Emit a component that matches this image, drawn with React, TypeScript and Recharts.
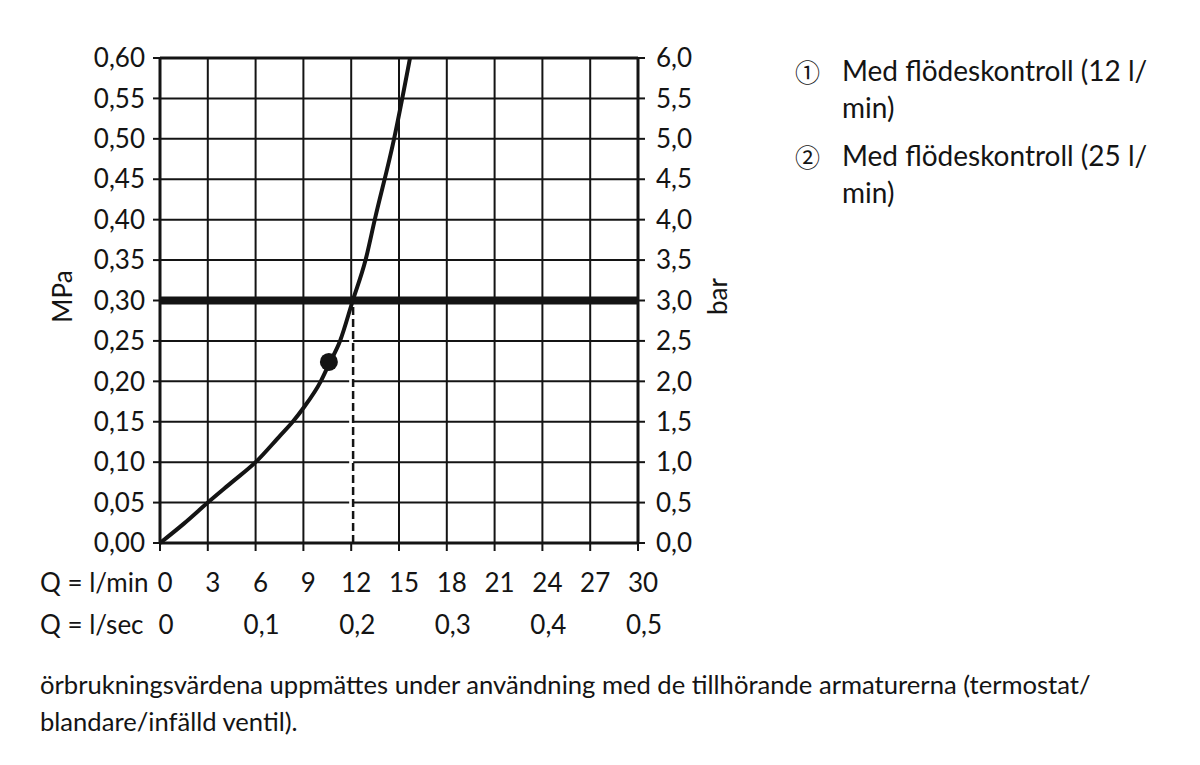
import { CartesianGrid, Label, Line, LineChart, ReferenceDot, ReferenceLine, XAxis, YAxis } from "recharts";

// flow curve (l/min -> MPa)
const flowLmin = [0, 1.5, 3, 4.5, 6, 7.5, 8.33, 9, 10.09, 10.6, 11.3, 12.1, 12.9, 13.48, 14.69, 15.69];
const pressureMpa = [0, 0.024, 0.05, 0.075, 0.1, 0.132, 0.15, 0.167, 0.2, 0.221, 0.25, 0.3, 0.35, 0.4, 0.5, 0.6];

const minTicks = [0, 3, 6, 9, 12, 15, 18, 21, 24, 27, 30];
const minLabels = ["0", "3", "6", "9", "12", "15", "18", "21", "24", "27", "30"];
const secTicks = [0, 6, 12, 18, 24, 30];
const secLabels = ["0", "0,1", "0,2", "0,3", "0,4", "0,5"];
const mpaTicks = [0, 0.05, 0.1, 0.15, 0.2, 0.25, 0.3, 0.35, 0.4, 0.45, 0.5, 0.55, 0.6];
const mpaLabels = ["0,00", "0,05", "0,10", "0,15", "0,20", "0,25", "0,30", "0,35", "0,40", "0,45", "0,50", "0,55", "0,60"];
const barTicks = [0, 0.5, 1, 1.5, 2, 2.5, 3, 3.5, 4, 4.5, 5, 5.5, 6];
const barLabels = ["0,0", "0,5", "1,0", "1,5", "2,0", "2,5", "3,0", "3,5", "4,0", "4,5", "5,0", "5,5", "6,0"];

const limitMpa = 0.3;
const limitFlow = 12;
const markFlow = 10.6;
const markMpa = 0.224;

const legendMarks = ["①", "②"];
const legendLines = [
  ["Med flödeskontroll (12 l/", "min)"],
  ["Med flödeskontroll (25 l/", "min)"],
];
const noteLines = [
  "örbrukningsvärdena uppmättes under användning med de tillhörande armaturerna (termostat/",
  "blandare/infälld ventil).",
];

const INK = "#141414";
const FONT = "Lato, 'Open Sans', sans-serif";

const data = flowLmin.map((q, i) => ({ q, p: pressureMpa[i] }));

const MinTick = ({ x, y, index }: any) => (
  <text x={x + 5} y={y + 41} textAnchor="middle" fontSize={26} fill={INK}>
    {minLabels[index]}
  </text>
);

const SecTick = ({ x, y, index }: any) => (
  <text x={x + 6} y={y + 41} textAnchor="middle" fontSize={26} fill={INK}>
    {secLabels[index]}
  </text>
);

// "Q = ..." row captions, left aligned at x = 40
const rowCaption = (text: string, dy: number) => (props: any) => {
  const vb = props.viewBox;
  return (
    <text x={vb.x - 120} y={vb.y + dy} textAnchor="start" fontSize={26} fill={INK}>
      {text}
    </text>
  );
};

const sideLabel = (text: string, dx: number) => (props: any) => {
  const vb = props.viewBox;
  const cx = vb.x + dx;
  const cy = vb.y + vb.height / 2 - 4;
  return (
    <text
      x={cx}
      y={cy}
      transform={`rotate(-90 ${cx} ${cy})`}
      textAnchor="middle"
      dominantBaseline="central"
      fontSize={26}
      fill={INK}
    >
      {text}
    </text>
  );
};

export default function App() {
  return (
    <div
      style={{
        position: "absolute",
        left: 0,
        top: 0,
        width: 1200,
        height: 765,
        background: "#fff",
        fontFamily: FONT,
        color: INK,
      }}
    >
      <div style={{ position: "absolute", left: 0, top: 0 }}>
        <LineChart width={760} height={660} data={data} margin={{ top: 58, right: 20, left: 20, bottom: 25 }}>
          <CartesianGrid xAxisId="min" yAxisId="mpa" stroke={INK} strokeWidth={2} strokeOpacity={1} />
          <XAxis
            xAxisId="min"
            dataKey="q"
            type="number"
            domain={[0, 30]}
            ticks={minTicks}
            interval={0}
            height={50}
            tickSize={8}
            tickMargin={0}
            tick={<MinTick />}
            axisLine={{ stroke: INK, strokeWidth: 3 }}
            tickLine={{ stroke: INK, strokeWidth: 2 }}
          >
            <Label content={rowCaption("Q = l/min", 49)} />
          </XAxis>
          <XAxis
            xAxisId="sec"
            dataKey="q"
            type="number"
            domain={[0, 30]}
            ticks={secTicks}
            interval={0}
            height={42}
            tickSize={0}
            tickMargin={0}
            tick={<SecTick />}
            axisLine={false}
            tickLine={false}
          >
            <Label content={rowCaption("Q = l/sec", 41)} />
          </XAxis>
          <YAxis
            yAxisId="mpa"
            dataKey="p"
            type="number"
            domain={[0, 0.6]}
            ticks={mpaTicks}
            interval={0}
            width={140}
            tickSize={7}
            tickMargin={8}
            tickFormatter={(_v: number, i: number) => mpaLabels[i]}
            tick={{ fill: INK, fontSize: 26 }}
            axisLine={{ stroke: INK, strokeWidth: 3 }}
            tickLine={{ stroke: INK, strokeWidth: 2 }}
          >
            <Label content={sideLabel("MPa", 42)} />
          </YAxis>
          <YAxis
            yAxisId="bar"
            dataKey="p"
            orientation="right"
            type="number"
            domain={[0, 6]}
            allowDataOverflow
            ticks={barTicks}
            interval={0}
            width={102}
            tickSize={7}
            tickMargin={11}
            tickFormatter={(_v: number, i: number) => barLabels[i]}
            tick={{ fill: INK, fontSize: 26 }}
            axisLine={{ stroke: INK, strokeWidth: 3 }}
            tickLine={{ stroke: INK, strokeWidth: 2 }}
          >
            <Label content={sideLabel("bar", 79)} />
          </YAxis>
          <ReferenceLine xAxisId="min" yAxisId="bar" y={6} stroke={INK} strokeWidth={3} />
          <ReferenceLine
            xAxisId="min"
            yAxisId="mpa"
            segment={[
              { x: limitFlow, y: 0 },
              { x: limitFlow, y: limitMpa },
            ]}
            stroke="#fff"
            strokeWidth={4}
          />
          <ReferenceLine
            xAxisId="min"
            yAxisId="mpa"
            segment={[
              { x: limitFlow + 0.12, y: 0 },
              { x: limitFlow + 0.12, y: limitMpa },
            ]}
            stroke={INK}
            strokeWidth={2.5}
            strokeDasharray="8 4"
          />
          <ReferenceLine xAxisId="min" yAxisId="mpa" y={limitMpa} stroke={INK} strokeWidth={8} />
          <Line
            xAxisId="min"
            yAxisId="mpa"
            dataKey="p"
            type="monotone"
            stroke={INK}
            strokeWidth={4}
            dot={false}
            activeDot={false}
            isAnimationActive={false}
          />
          <ReferenceDot xAxisId="min" yAxisId="mpa" x={markFlow} y={markMpa} r={9} fill={INK} stroke="none" />
        </LineChart>
      </div>

      {legendLines.map((lines, i) => (
        <div
          key={i}
          style={{ position: "absolute", left: 797, top: 52 + i * 85, fontSize: 28, lineHeight: "37px" }}
        >
          <span
            style={{
              position: "absolute",
              left: -2,
              top: 1,
              fontSize: 25,
              fontFamily: "'Noto Sans CJK JP', 'DejaVu Sans', sans-serif",
            }}
          >
            {legendMarks[i]}
          </span>
          <div style={{ marginLeft: 45, whiteSpace: "nowrap" }}>
            {lines.map((l, j) => (
              <div key={j}>{l}</div>
            ))}
          </div>
        </div>
      ))}

      <div style={{ position: "absolute", left: 40, top: 666, fontSize: 25.6, lineHeight: "37px", whiteSpace: "nowrap" }}>
        {noteLines.map((l, i) => (
          <div key={i}>{l}</div>
        ))}
      </div>
    </div>
  );
}
